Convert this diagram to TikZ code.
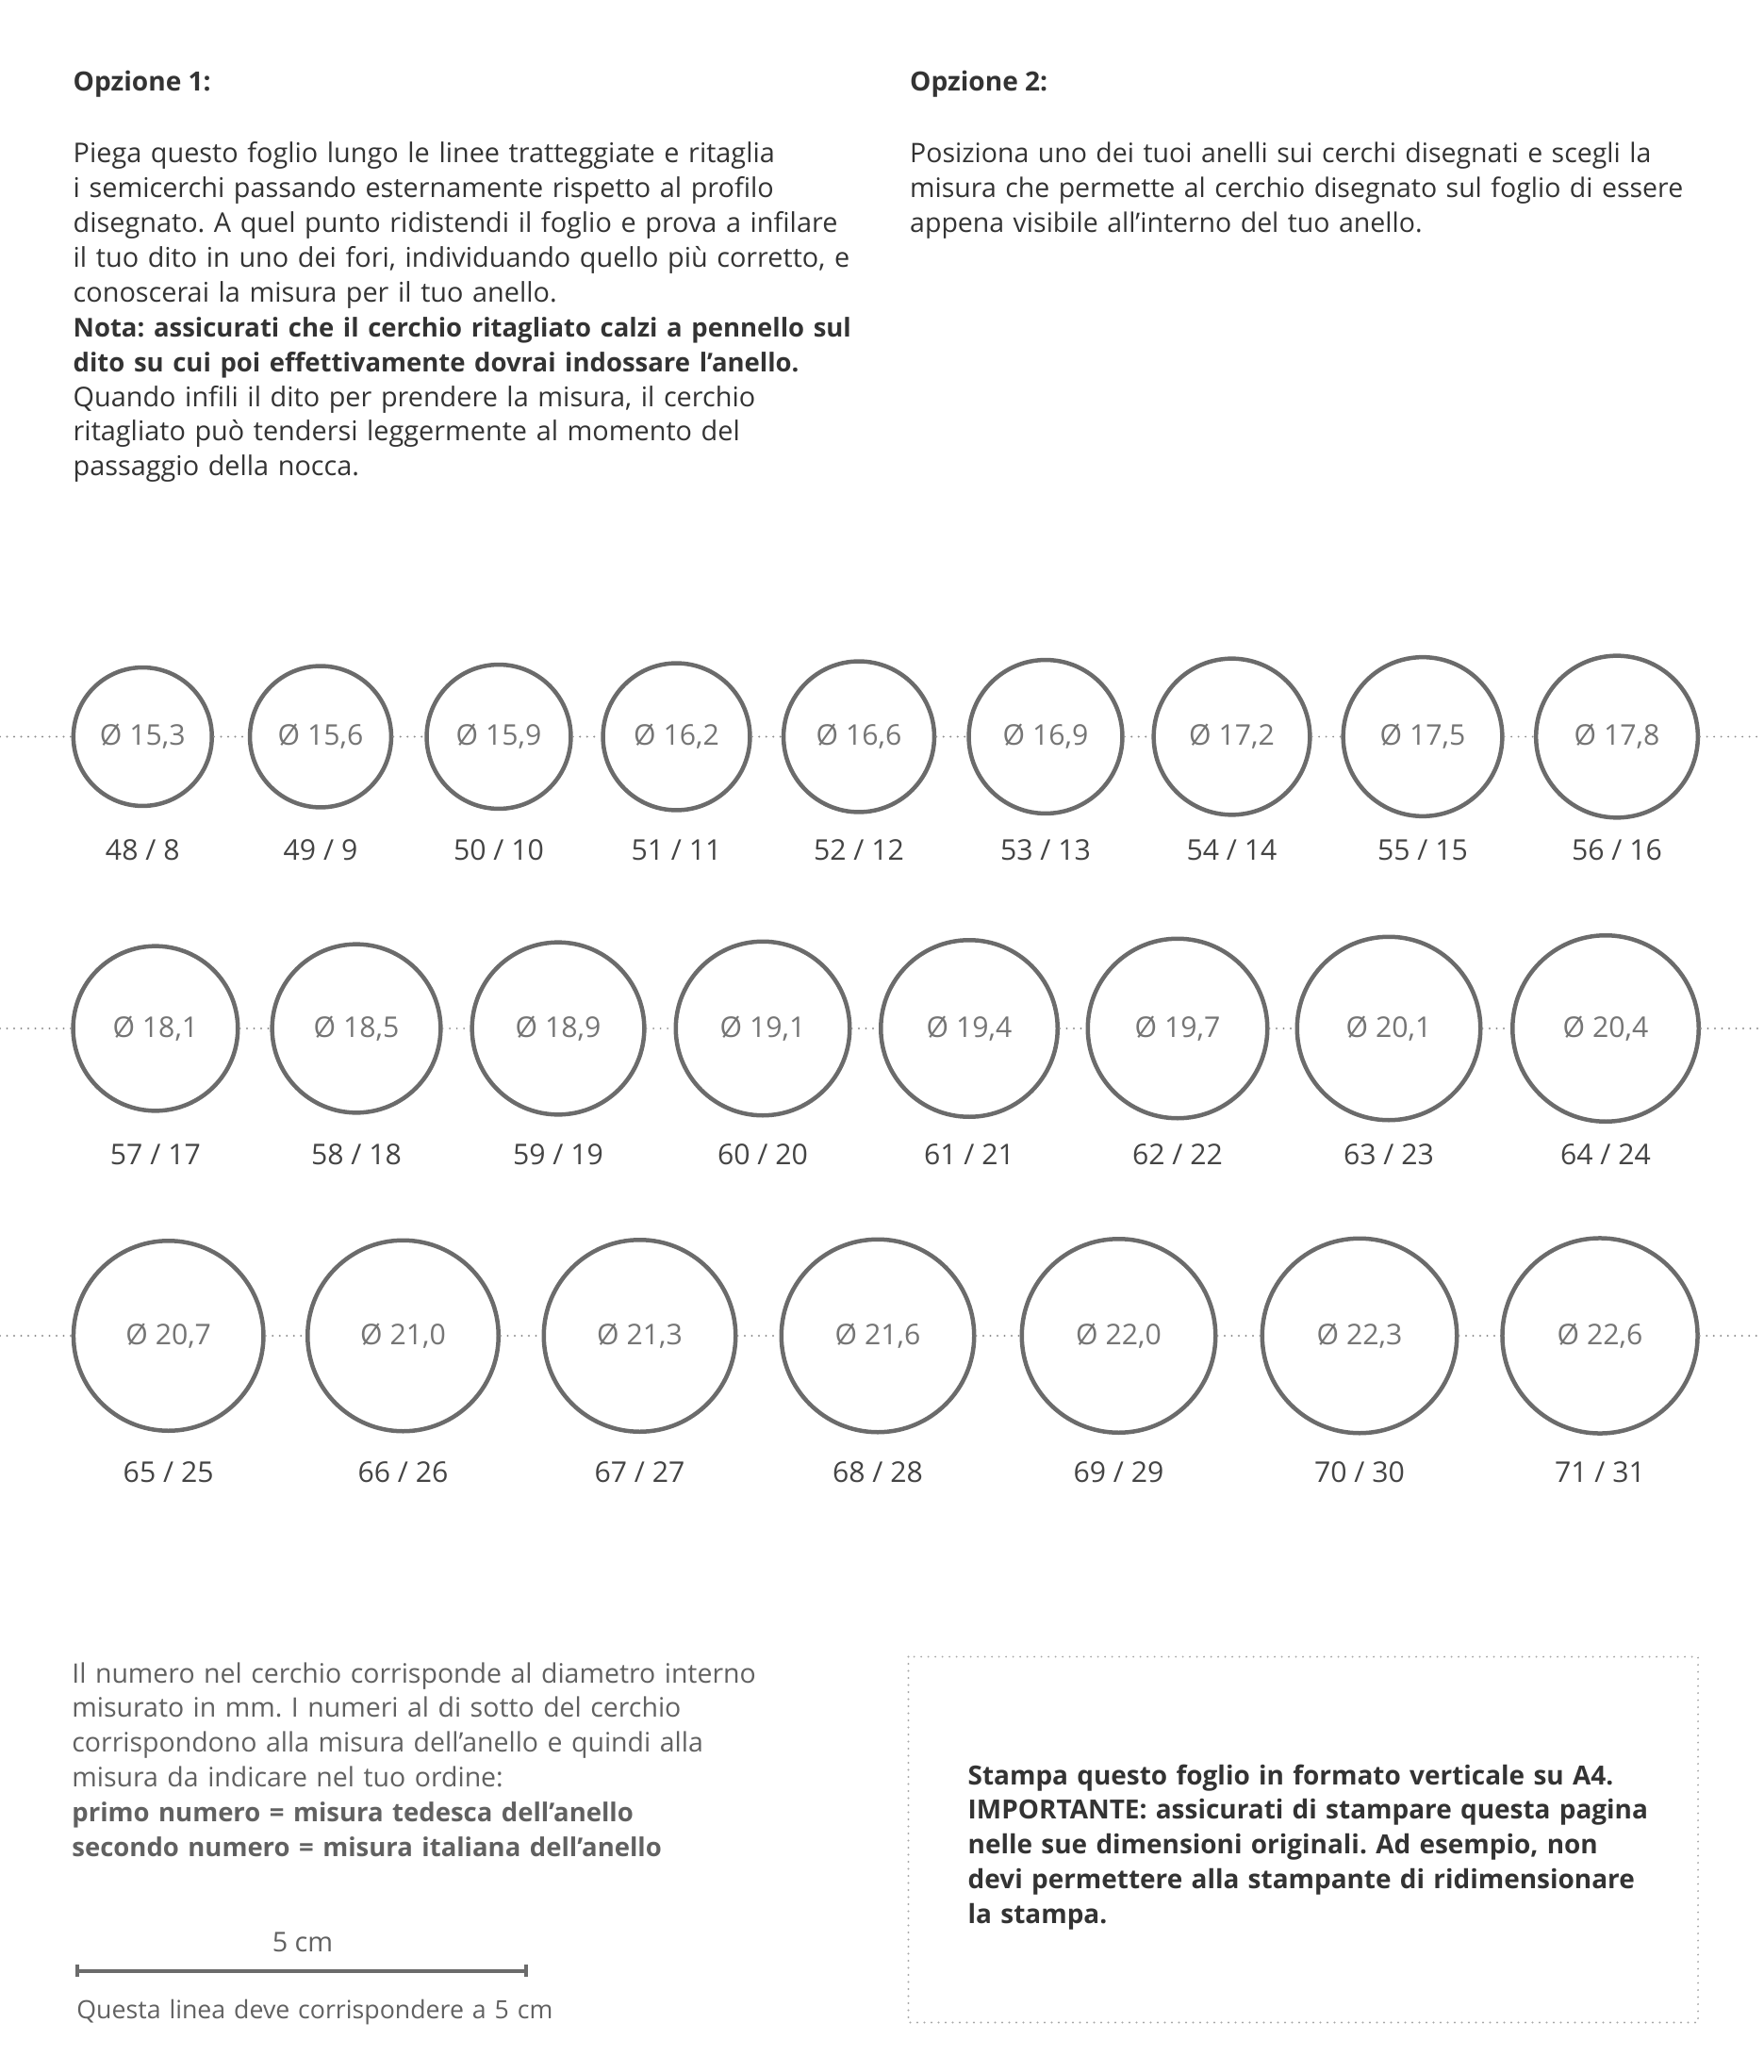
\documentclass[tikz,border=0pt]{standalone}
\usepackage{fontspec}
\setmainfont{Open Sans}
\usetikzlibrary{positioning,arrows.meta}
\frenchspacing

\definecolor{inkdark}{HTML}{333333}
\definecolor{inkgray}{HTML}{616161}
\definecolor{ringline}{HTML}{6B6B6B}
\definecolor{ringtext}{HTML}{757575}
\definecolor{sizetext}{HTML}{444444}
\definecolor{dotline}{HTML}{8F8F8F}
\definecolor{boxdot}{HTML}{A8A8A8}

% bold runs are set a touch smaller than the regular text
\newcommand\boldrun[1]{{\bfseries\fontsize{7.82}{10.5}\selectfont #1}}

\tikzset{
  ring/.style={circle, draw=ringline, line width=0.045cm, fill=white, inner sep=0pt,
    text=ringtext, font=\fontsize{8.6}{10}\selectfont},
  sizelabel/.style={anchor=base, inner sep=0pt, text=sizetext, font=\fontsize{8.6}{10}\selectfont},
  foldline/.style={draw=dotline, line width=0.022cm, line cap=round, dash pattern=on 0pt off 0.075cm},
  para/.style={anchor=base west, inner sep=0pt, align=left, text width=9.5cm, text=inkdark,
    font=\fontsize{8.2}{10.5}\selectfont},
  heading/.style={anchor=base west, inner sep=0pt, text=inkdark, font=\bfseries\fontsize{8.0}{10.5}\selectfont},
}

\begin{document}
\begin{tikzpicture}
\useasboundingbox (0,0) rectangle (18.70,-21.98);

% instructions
\node[heading] (opt1) at (0.77,-0.97) {Opzione 1:};
\node[para] (opt1text) at (0.77,-1.727) {Piega questo foglio lungo le linee tratteggiate e ritaglia\\
i semicerchi passando esternamente rispetto al profilo\\
disegnato. A quel punto ridistendi il foglio e prova a infilare\\
il tuo dito in uno dei fori, individuando quello più corretto, e\\
conoscerai la misura per il tuo anello.\\
\boldrun{Nota: assicurati che il cerchio ritagliato calzi a pennello sul}\\
\boldrun{dito su cui poi effettivamente dovrai indossare l’anello.}\\
Quando infili il dito per prendere la misura, il cerchio\\
ritagliato può tendersi leggermente al momento del\\
passaggio della nocca.};
\node[heading] (opt2) at (9.645,-0.97) {Opzione 2:};
\node[para, font=\fontsize{8.1}{10.5}\selectfont] (opt2text) at (9.645,-1.727) {Posiziona uno dei tuoi anelli sui cerchi disegnati e scegli la\\
misura che permette al cerchio disegnato sul foglio di essere\\
appena visibile all’interno del tuo anello.};

% rings: x / size / diameter / german / italian
\foreach \x/\s/\a/\b/\de/\it [count=\i] in {
  1.513/1.469/15/3/48/8, 3.40/1.499/15/6/49/9, 5.29/1.529/15/9/50/10,
  7.175/1.559/16/2/51/11, 9.11/1.599/16/6/52/12, 11.09/1.629/16/9/53/13,
  13.065/1.657/17/2/54/14, 15.09/1.687/17/5/55/15, 17.15/1.717/17/8/56/16} {
  \node[ring, minimum size=\s cm] (a\i) at (\x,-7.815) {Ø \a,\b};
  \node[sizelabel] (a\i size) at (\x,-9.12) {\de~/~\it};
}
\foreach \x/\s/\a/\b/\de/\it [count=\i] in {
  1.649/1.747/18/1/57/17, 3.78/1.787/18/5/58/18, 5.92/1.827/18/9/59/19,
  8.09/1.845/19/1/60/20, 10.28/1.875/19/4/61/21, 12.49/1.905/19/7/62/22,
  14.73/1.945/20/1/63/23, 17.03/1.975/20/4/64/24} {
  \node[ring, minimum size=\s cm] (b\i) at (\x,-10.91) {Ø \a,\b};
  \node[sizelabel] (b\i size) at (\x,-12.35) {\de~/~\it};
}
\foreach \x/\s/\a/\b/\de/\it [count=\i] in {
  1.787/2.015/20/7/65/25, 4.275/2.025/21/0/66/26, 6.785/2.035/21/3/67/27,
  9.31/2.045/21/6/68/28, 11.865/2.055/22/0/69/29, 14.42/2.065/22/3/70/30,
  16.97/2.071/22/6/71/31} {
  \node[ring, minimum size=\s cm] (c\i) at (\x,-14.17) {Ø \a,\b};
  \node[sizelabel] (c\i size) at (\x,-15.72) {\de~/~\it};
}

% fold lines
\coordinate (a0) at (0,-7.815);  \coordinate (a10) at (18.70,-7.815);
\coordinate (b0) at (0,-10.91);  \coordinate (b9) at (18.70,-10.91);
\coordinate (c0) at (0,-14.17);  \coordinate (c8) at (18.70,-14.17);
\foreach \i [count=\j from 1] in {0,...,9} \draw[foldline] (a\i) -- (a\j);
\foreach \i [count=\j from 1] in {0,...,8} \draw[foldline] (b\i) -- (b\j);
\foreach \i [count=\j from 1] in {0,...,7} \draw[foldline] (c\i) -- (c\j);

% legend
\node[para, text=inkgray, font=\fontsize{8.1}{10.5}\selectfont] (legend) at (0.757,-17.85) {Il numero nel cerchio corrisponde al diametro interno\\
misurato in mm. I numeri al di sotto del cerchio\\
corrispondono alla misura dell’anello e quindi alla\\
misura da indicare nel tuo ordine:\\
\boldrun{primo numero = misura tedesca dell’anello}\\
\boldrun{secondo numero = misura italiana dell’anello}};

% 5 cm check
\coordinate (bar0) at (0.80,-20.907);
\coordinate (bar5) at (5.60,-20.907);
\draw[draw=ringline, line width=0.04cm, {Bar[width=0.13cm]}-{Bar[width=0.13cm]}] (bar0) -- (bar5);
\node[sizelabel, text=inkgray, font=\fontsize{8.2}{10}\selectfont] (barlabel) at (3.21,-20.70) {5 cm};
\node[para, text=inkgray, font=\fontsize{7.6}{10}\selectfont] (barnote) at (0.807,-21.41) {Questa linea deve corrispondere a 5 cm};

% print note
\draw[foldline, draw=boxdot] (9.635,-17.575) rectangle (18.01,-21.455);
\node[para, font=\bfseries\fontsize{7.95}{10.5}\selectfont] (printnote) at (10.26,-18.93) {Stampa questo foglio in formato verticale su A4.\\
IMPORTANTE: assicurati di stampare questa pagina\\
nelle sue dimensioni originali. Ad esempio, non\\
devi permettere alla stampante di ridimensionare\\
la stampa.};
\end{tikzpicture}
\end{document}
